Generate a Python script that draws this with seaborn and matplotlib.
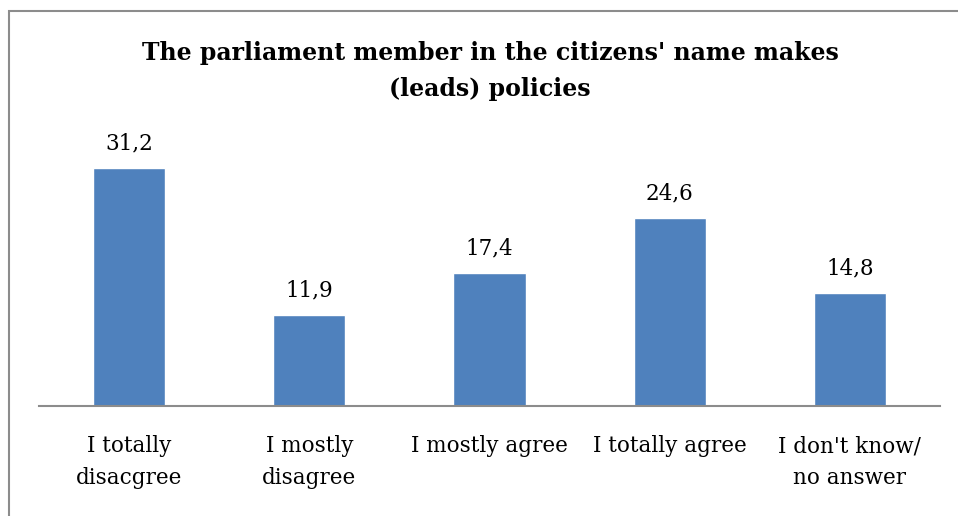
import matplotlib
matplotlib.use("Agg")
import matplotlib.pyplot as plt
import seaborn as sns
import pandas as pd
from matplotlib.patches import Rectangle

# --- data ---
categories = ["I totally\ndisacgree", "I mostly\ndisagree", "I mostly agree",
              "I totally agree", "I don't know/\nno answer"]
values = [31.2, 11.9, 17.4, 24.6, 14.8]
value_labels = ["31,2", "11,9", "17,4", "24,6", "14,8"]
title = "The parliament member in the citizens' name makes\n(leads) policies"

df = pd.DataFrame({"category": categories, "value": values})

sns.set_style("white")
plt.rcParams["font.family"] = ["DejaVu Serif"]
plt.rcParams["text.color"] = "black"
plt.rcParams["xtick.color"] = "black"

W, H = 958, 516
fig = plt.figure(figsize=(W / 100, H / 100), dpi=100)
ax = fig.add_axes([39 / W, 1 - 406 / H, (940 - 39) / W, (406 - 139) / H])

sns.barplot(data=df, x="category", y="value", color="#4F81BD", saturation=1,
            width=0.4, ax=ax)
ax.set_ylim(0, 35)
ax.set_xlim(-0.5, len(categories) - 0.5)

for c in ax.containers:
    ax.bar_label(c, labels=value_labels, padding=10, fontsize=15.5, color="black")

ax.set_xlabel("")
ax.set_ylabel("")
ax.set_yticks([])
ax.tick_params(axis="x", length=0, pad=21, labelsize=15.5, labelcolor="black")
for lbl in ax.get_xticklabels():
    lbl.set_linespacing(1.55)
for s in ["top", "right", "left"]:
    ax.spines[s].set_visible(False)
ax.spines["bottom"].set_color("#8c8c8c")
ax.spines["bottom"].set_linewidth(1.5)

fig.text(490 / W, 1 - 71 / H, title, ha="center", va="center", color="black",
         fontsize=17, fontweight="bold", linespacing=1.65)

# outer chart border (cut off at right/bottom)
fig.patches.append(Rectangle((9 / W, -0.1), 1.2, 1 - 11 / H + 0.1,
                             transform=fig.transFigure, fill=False,
                             edgecolor="#8c8c8c", linewidth=1.5))

fig.savefig("out.png", dpi=100)
